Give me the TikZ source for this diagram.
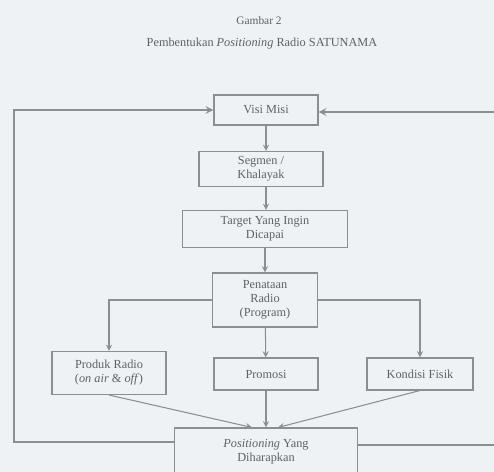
\documentclass[tikz,border=0pt]{standalone}
\usepackage{fontspec}
\setmainfont{Liberation Serif}
\usetikzlibrary{calc}
\definecolor{paper}{RGB}{238,242,245}
\definecolor{ink}{RGB}{95,98,100}
\definecolor{rule}{RGB}{140,143,146}
\begin{document}
\begin{tikzpicture}[>=stealth, x=0.02cm, y=-0.02cm,
    box/.style={draw=rule, line width=0.6pt, align=center, inner sep=1pt,
      text=ink, font=\fontsize{7}{8}\selectfont},
    link/.style={draw=rule, line width=0.6pt},
    loop/.style={draw=rule, line width=1pt}]
      \fill[paper] (0, 0) rectangle (494, 472);
      \useasboundingbox (0, 0) rectangle (494, 472);
      \node[text=ink, font=\fontsize{6.5}{8}\selectfont] (fig) at (259, 21) {Gambar 2};
      \node[text=ink, font=\fontsize{7}{8}\selectfont] (title) at (262, 44) {Pembentukan \textit{Positioning} Radio SATUNAMA};
      \node[box, minimum width=2.08cm, minimum height=0.6cm] (visi) at (266, 110) {Visi Misi};
      \node[box, minimum width=2.48cm, minimum height=0.7cm] (segmen) at (261, 169) {Segmen /\\Khalayak};
      \node[box, minimum width=3.3cm, minimum height=0.74cm] (target) at (265, 229) {Target Yang Ingin\\Dicapai};
      \node[box, minimum width=2.1cm, minimum height=1.08cm] (penataan) at (265, 300) {Penataan\\Radio\\(Program)};
      \node[box, minimum width=2.28cm, minimum height=0.86cm] (produk) at (109, 373) {Produk Radio\\(\textit{on air} \& \textit{off})};
      \node[box, minimum width=2.08cm, minimum height=0.64cm] (promosi) at (266, 374) {Promosi};
      \node[box, minimum width=2.12cm, minimum height=0.64cm] (kondisi) at (420, 374) {Kondisi Fisik};
      \node[box, minimum width=3.66cm, minimum height=0.96cm] (posi) at (266, 452) {\textit{Positioning} Yang\\Diharapkan};
      % main chain
      \draw[link, ->] (visi.south) -- (visi.south |- segmen.north);
      \draw[link, ->] (visi.south |- segmen.south) -- (visi.south |- target.north);
      \draw[link, ->] (target) -- (penataan);
      \draw[link, ->] (penataan) -- (promosi);
      \draw[link, ->] (penataan.west) -| (produk.north);
      \draw[link, ->] (penataan.east) -| (kondisi.north);
      % into the result
      \draw[link, ->] (produk.south) -- ($(posi.north) + (-14, 0)$);
      \draw[link, ->] (promosi) -- (posi);
      \draw[link, ->] (kondisi.south) -- ($(posi.north) + (12, 0)$);
      % feedback
      \coordinate (bl) at (14, 442);
      \coordinate (br) at (494, 445);
      \coordinate (tr) at (494, 112);
      \draw[loop, ->] (bl -| posi.west) -- (bl) |- (visi.west);
      \draw[loop] (br -| posi.east) -- (br);
      \draw[loop, ->] (tr) -- (tr -| visi.east);
    \end{tikzpicture}
\end{document}
